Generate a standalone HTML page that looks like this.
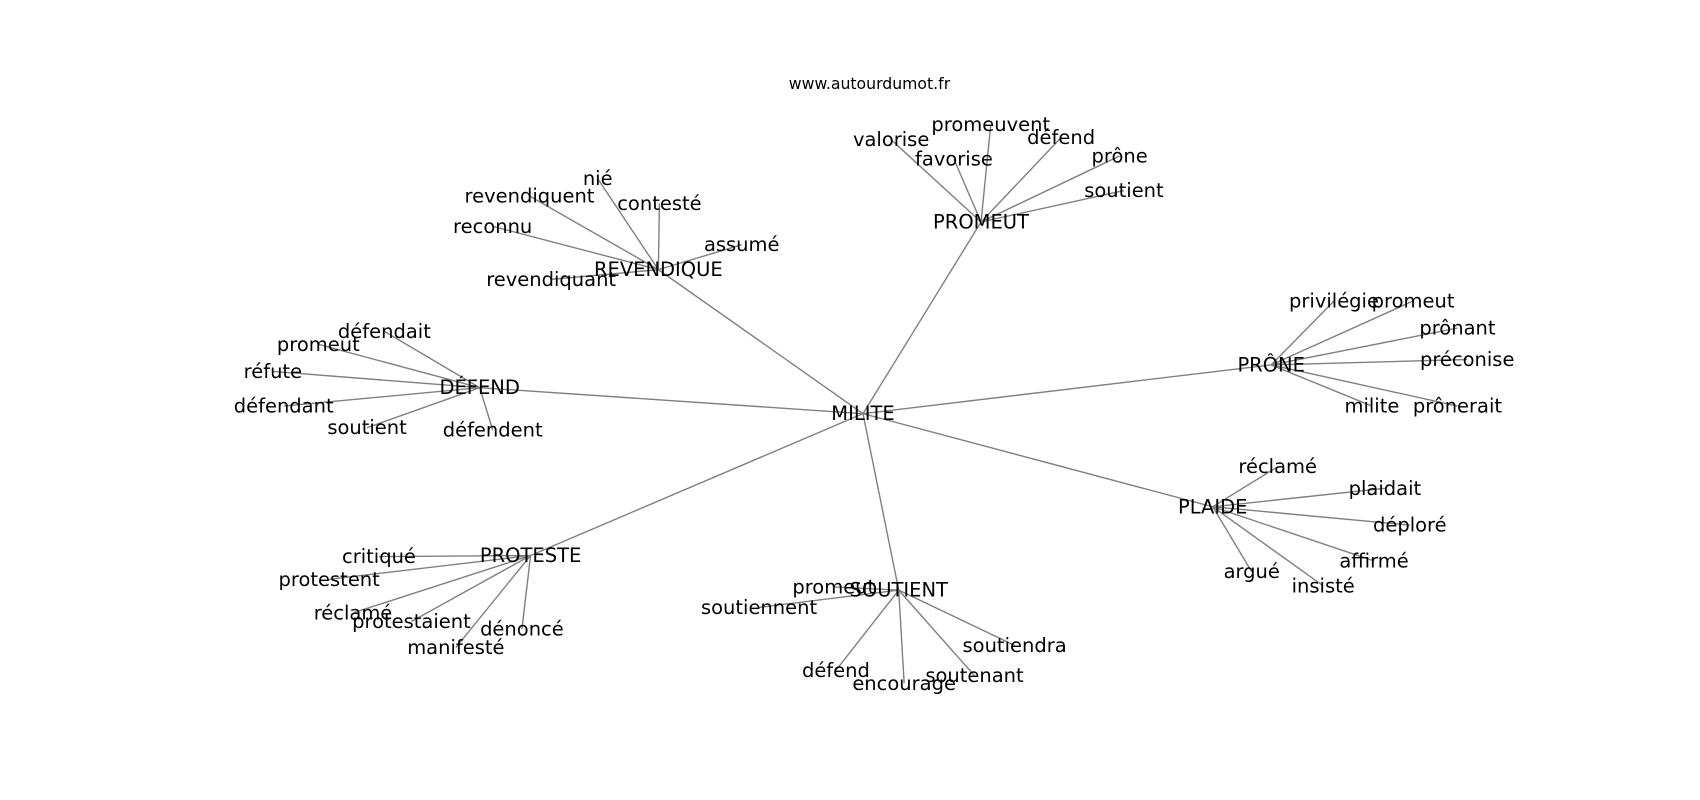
<!DOCTYPE html>
<html><head><meta charset="utf-8"><style>
html,body{margin:0;padding:0;background:#fff;}
svg{display:block;}
text{font-family:"DejaVu Sans","Liberation Sans",sans-serif;font-size:18px;fill:#000;text-anchor:middle;dominant-baseline:central;}
line{stroke:#808080;stroke-width:1.3;}
</style></head><body>
<svg width="1700" height="800" viewBox="0 -1 1570 738.8" xmlns="http://www.w3.org/2000/svg">
<g>
<line x1="797" y1="381" x2="906" y2="204"/>
<line x1="797" y1="381" x2="608" y2="248"/>
<line x1="797" y1="381" x2="443" y2="357"/>
<line x1="797" y1="381" x2="1174" y2="336"/>
<line x1="797" y1="381" x2="1120" y2="467"/>
<line x1="797" y1="381" x2="490" y2="512"/>
<line x1="797" y1="381" x2="830" y2="544"/>
<line x1="906" y1="204" x2="823" y2="128"/><line x1="906" y1="204" x2="915" y2="114"/><line x1="906" y1="204" x2="980" y2="126"/><line x1="906" y1="204" x2="881" y2="146"/><line x1="906" y1="204" x2="1034" y2="143"/><line x1="906" y1="204" x2="1038" y2="175"/>
<line x1="608" y1="248" x2="552" y2="164"/><line x1="608" y1="248" x2="489" y2="180"/><line x1="608" y1="248" x2="609" y2="187"/><line x1="608" y1="248" x2="455" y2="208"/><line x1="608" y1="248" x2="685" y2="225"/><line x1="608" y1="248" x2="509" y2="257"/>
<line x1="443" y1="357" x2="355" y2="305"/><line x1="443" y1="357" x2="294" y2="317"/><line x1="443" y1="357" x2="252" y2="342"/><line x1="443" y1="357" x2="262" y2="374"/><line x1="443" y1="357" x2="339" y2="394"/><line x1="443" y1="357" x2="455" y2="396"/>
<line x1="1174" y1="336" x2="1232" y2="277"/><line x1="1174" y1="336" x2="1305" y2="277"/><line x1="1174" y1="336" x2="1346" y2="302"/><line x1="1174" y1="336" x2="1355" y2="331"/><line x1="1174" y1="336" x2="1267" y2="374"/><line x1="1174" y1="336" x2="1346" y2="374"/>
<line x1="1120" y1="467" x2="1180" y2="430"/><line x1="1120" y1="467" x2="1279" y2="450"/><line x1="1120" y1="467" x2="1302" y2="484"/><line x1="1120" y1="467" x2="1269" y2="517"/><line x1="1120" y1="467" x2="1156" y2="527"/><line x1="1120" y1="467" x2="1222" y2="540"/>
<line x1="490" y1="512" x2="350" y2="513"/><line x1="490" y1="512" x2="304" y2="534"/><line x1="490" y1="512" x2="326" y2="565"/><line x1="490" y1="512" x2="380" y2="573"/><line x1="490" y1="512" x2="482" y2="580"/><line x1="490" y1="512" x2="421" y2="597"/>
<line x1="830" y1="544" x2="770" y2="541"/><line x1="830" y1="544" x2="701" y2="560"/><line x1="830" y1="544" x2="772" y2="618"/><line x1="830" y1="544" x2="835" y2="630"/><line x1="830" y1="544" x2="900" y2="623"/><line x1="830" y1="544" x2="937" y2="595"/>
</g>
<text x="803" y="76" style="font-size:14.5px">www.autourdumot.fr</text>
<text x="797" y="381">MILITE</text>
<text x="906" y="204">PROMEUT</text>
<text x="608" y="248">REVENDIQUE</text>
<text x="443" y="357">DÉFEND</text>
<text x="1174" y="336">PRÔNE</text>
<text x="1120" y="467">PLAIDE</text>
<text x="490" y="512">PROTESTE</text>
<text x="830" y="544">SOUTIENT</text>
<text x="823" y="128">valorise</text><text x="915" y="114">promeuvent</text><text x="980" y="126">défend</text><text x="881" y="146">favorise</text><text x="1034" y="143">prône</text><text x="1038" y="175">soutient</text>
<text x="552" y="164">nié</text><text x="489" y="180">revendiquent</text><text x="609" y="187">contesté</text><text x="455" y="208">reconnu</text><text x="685" y="225">assumé</text><text x="509" y="257">revendiquant</text>
<text x="355" y="305">défendait</text><text x="294" y="317">promeut</text><text x="252" y="342">réfute</text><text x="262" y="374">défendant</text><text x="339" y="394">soutient</text><text x="455" y="396">défendent</text>
<text x="1232" y="277">privilégie</text><text x="1305" y="277">promeut</text><text x="1346" y="302">prônant</text><text x="1355" y="331">préconise</text><text x="1267" y="374">milite</text><text x="1346" y="374">prônerait</text>
<text x="1180" y="430">réclamé</text><text x="1279" y="450">plaidait</text><text x="1302" y="484">déploré</text><text x="1269" y="517">affirmé</text><text x="1156" y="527">argué</text><text x="1222" y="540">insisté</text>
<text x="350" y="513">critiqué</text><text x="304" y="534">protestent</text><text x="326" y="565">réclamé</text><text x="380" y="573">protestaient</text><text x="482" y="580">dénoncé</text><text x="421" y="597">manifesté</text>
<text x="770" y="541">promeut</text><text x="701" y="560">soutiennent</text><text x="772" y="618">défend</text><text x="835" y="630">encourage</text><text x="900" y="623">soutenant</text><text x="937" y="595">soutiendra</text>
</svg>
</body></html>
